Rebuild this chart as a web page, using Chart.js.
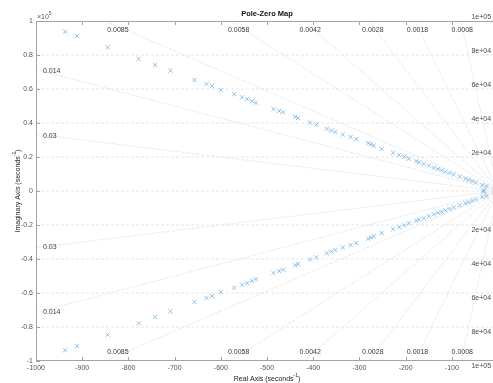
<!DOCTYPE html>
<html><head><meta charset="utf-8">
<script src="https://cdn.jsdelivr.net/npm/chart.js@4/dist/chart.umd.min.js"></script>
<style>
html,body{margin:0;padding:0;overflow:hidden;background:#fff;width:493px;height:383px;}
#wrap{position:absolute;left:0;top:0;width:503px;height:383px;}
</style></head><body>
<div id="wrap"><canvas id="c" width="503" height="383"></canvas></div>
<script>
// ---- data (real part, imaginary part in s^-1) ----
const poleReal = [-937,-911,-845,-778,-742,-709,-657,-631,-619,-600,-571,-554,-543,-533,-524,-486,-474,-465,-439,-433,-407,-393,-371,-361,-352,-336,-319,-307,-281,-275,-269,-252,-227,-214,-203,-193,-177,-171,-161,-150,-139,-130,-122,-114,-105,-96,-83,-71,-64,-56,-48,-34,-25,-31];
const poleImagUpper = [93700,91200,84500,77800,74100,70800,65300,62900,61800,59400,56900,55100,54100,52900,51900,48200,47100,46300,43700,42900,40300,39000,36600,35600,34700,33200,31800,30600,28100,27400,26700,24700,22500,21200,20200,19000,17500,16900,16000,14900,13700,12900,12200,11400,10500,9700,8400,7200,6500,5700,5000,3500,2900,400];
const poleImagLower = [-93700,-91200,-84500,-77800,-74100,-70800,-65300,-62900,-61800,-59400,-56900,-55100,-54100,-52900,-51900,-48200,-47100,-46300,-43700,-42900,-40300,-39000,-36600,-35600,-34700,-33200,-31800,-30600,-28100,-27400,-26700,-24700,-22500,-21200,-20200,-19000,-17500,-16900,-16000,-14900,-13700,-12900,-12200,-11400,-10500,-9700,-8400,-7200,-6500,-5700,-5000,-3500,-2900,-400];
const xTickValues = [-1000,-900,-800,-700,-600,-500,-400,-300,-200,-100,0];
const yTickValues = [-100000,-80000,-60000,-40000,-20000,0,20000,40000,60000,80000,100000];
const dampingValues = [0.03,0.014,0.0085,0.0058,0.0042,0.0028,0.0018,0.0008];
const dampingLabels = ['0.03','0.014','0.0085','0.0058','0.0042','0.0028','0.0018','0.0008'];
const freqValues = [20000,40000,60000,80000,100000];
const freqLabels = ['2e+04','4e+04','6e+04','8e+04','1e+05'];

const FONT = '"Liberation Sans", Arial, Helvetica, sans-serif';
const poleColor = '#6aaee4';

const upper = poleReal.map((x,i)=>({x:x,y:poleImagUpper[i]}));
const lower = poleReal.map((x,i)=>({x:x,y:poleImagLower[i]}));

function supText(ctx, parts, x, y, align){
  const main = '7px ' + FONT, small = '5px ' + FONT;
  let w = 0;
  parts.forEach(p=>{ ctx.font = p.sup?small:main; w += ctx.measureText(p.t).width; });
  let cx = align==='center' ? x - w/2 : x;
  ctx.textAlign = 'left'; ctx.textBaseline = 'alphabetic';
  parts.forEach(p=>{
    ctx.font = p.sup?small:main;
    ctx.fillText(p.t, cx, p.sup ? y-3.5 : y);
    cx += ctx.measureText(p.t).width;
  });
}

const sgrid = {
  id:'sgrid',
  beforeDatasetsDraw(chart){
    const {ctx, chartArea:a, scales:{x:sx, y:sy}} = chart;
    ctx.save();
    ctx.beginPath(); ctx.rect(a.left,a.top,a.right-a.left,a.bottom-a.top); ctx.clip();
    ctx.lineWidth = 0.7;
    // natural-frequency circles
    ctx.strokeStyle = '#dadada';
    ctx.setLineDash([3,2]);
    freqValues.forEach(r=>{
      [1,-1].forEach(s=>{
        ctx.beginPath();
        for(let k=0;k<=50;k++){
          const xv = -1000 + k*20;
          const yv = s*Math.sqrt(r*r - xv*xv);
          const px = sx.getPixelForValue(xv), py = sy.getPixelForValue(yv);
          if(k===0) ctx.moveTo(px,py); else ctx.lineTo(px,py);
        }
        ctx.stroke();
      });
    });
    // real axis
    ctx.beginPath();
    ctx.moveTo(a.left, sy.getPixelForValue(0)); ctx.lineTo(a.right, sy.getPixelForValue(0));
    ctx.stroke();
    // damping rays
    ctx.strokeStyle = '#e2e2e2';
    ctx.lineWidth = 0.7;
    ctx.setLineDash([4,1]);
    const R = 150000;
    dampingValues.forEach(z=>{
      [1,-1].forEach(s=>{
        ctx.beginPath();
        ctx.moveTo(sx.getPixelForValue(0), sy.getPixelForValue(0));
        ctx.lineTo(sx.getPixelForValue(-R*z), sy.getPixelForValue(s*R*Math.sqrt(1-z*z)));
        ctx.stroke();
      });
    });
    ctx.restore();
  },
  afterDatasetsDraw(chart){
    const {ctx, chartArea:a, scales:{x:sx, y:sy}} = chart;
    ctx.save();
    // box
    ctx.strokeStyle = '#a3a3a3'; ctx.lineWidth = 1; ctx.setLineDash([]);
    ctx.strokeRect(a.left+0.5, a.top+0.5, a.right-a.left-1, a.bottom-a.top-1);
    ctx.beginPath();
    xTickValues.forEach(v=>{
      const px = Math.round(sx.getPixelForValue(v))+0.5;
      ctx.moveTo(px, a.bottom); ctx.lineTo(px, a.bottom-4);
      ctx.moveTo(px, a.top); ctx.lineTo(px, a.top+4);
    });
    yTickValues.forEach(v=>{
      const py = Math.round(sy.getPixelForValue(v))+0.5;
      ctx.moveTo(a.left, py); ctx.lineTo(a.left+4, py);
      ctx.moveTo(a.right, py); ctx.lineTo(a.right-4, py);
    });
    ctx.stroke();
    // damping labels
    ctx.fillStyle = '#3a3a3a';
    ctx.font = '7px ' + FONT;
    dampingValues.forEach((z,i)=>{
      const xi = -100000*z/Math.sqrt(1-z*z);
      if(xi >= -1000){
        const px = sx.getPixelForValue(0.968*xi);
        ctx.textAlign='center'; ctx.textBaseline='middle';
        ctx.fillText(dampingLabels[i], px, a.top+9);
        ctx.fillText(dampingLabels[i], px, a.bottom-8.5);
      } else {
        const yv = 1000*Math.sqrt(1-z*z)/z;
        ctx.textAlign='left'; ctx.textBaseline='middle';
        ctx.fillText(dampingLabels[i], a.left+7, sy.getPixelForValue(yv)+1.5);
        ctx.fillText(dampingLabels[i], a.left+7, sy.getPixelForValue(-yv)-0.2);
      }
    });
    // frequency labels
    ctx.fillStyle = '#4a4a4a';
    ctx.textAlign='right'; ctx.textBaseline='middle';
    freqValues.forEach((r,i)=>{
      ctx.fillText(freqLabels[i], a.right-7, sy.getPixelForValue(r)-4);
      ctx.fillText(freqLabels[i], a.right-7, sy.getPixelForValue(-r)+4.8);
    });
    // exponent
    ctx.fillStyle = '#5a5a5a';
    supText(ctx, [{t:'\u00d710'},{t:'5',sup:true}], a.left+1, a.top-2.5, 'left');
    // title
    ctx.fillStyle = '#111';
    ctx.font = 'bold 7.5px ' + FONT;
    ctx.textAlign='center'; ctx.textBaseline='middle';
    ctx.fillText('Pole-Zero Map', (a.left+a.right)/2, 13.5);
    // x axis title
    ctx.fillStyle = '#222';
    supText(ctx, [{t:'Real Axis (seconds'},{t:'-1',sup:true},{t:')'}], (a.left+a.right)/2, 380.5, 'center');
    // y axis title
    ctx.save();
    ctx.translate(19.5, (a.top+a.bottom)/2);
    ctx.rotate(-Math.PI/2);
    supText(ctx, [{t:'Imaginary Axis (seconds'},{t:'-1',sup:true},{t:')'}], 0, 0, 'center');
    ctx.restore();
    ctx.restore();
  }
};

new Chart(document.getElementById('c'), {
  type:'scatter',
  data:{datasets:[
    {data:upper, pointStyle:'crossRot', pointRadius:3, borderColor:poleColor, backgroundColor:poleColor, pointBorderWidth:0.75, showLine:false},
    {data:lower, pointStyle:'crossRot', pointRadius:3, borderColor:poleColor, backgroundColor:poleColor, pointBorderWidth:0.75, showLine:false}
  ]},
  options:{
    responsive:false, animation:false, events:[],
    layout:{padding:{left:0, top:21, right:3.3, bottom:0}},
    plugins:{legend:{display:false}, tooltip:{enabled:false}, title:{display:false}},
    scales:{
      x:{type:'linear', min:-1000, max:0,
        afterBuildTicks(s){ s.ticks = xTickValues.map(v=>({value:v})); },
        afterFit(s){ s.height = 22; },
        grid:{display:false, drawTicks:false}, border:{display:false},
        ticks:{padding:3, autoSkip:false, maxRotation:0, color:'#555', font:{size:7, family:FONT},
          callback:v=>String(v)}
      },
      y:{type:'linear', min:-100000, max:100000,
        afterBuildTicks(s){ s.ticks = yTickValues.map(v=>({value:v})); },
        afterFit(s){ s.width = 36; },
        grid:{display:false, drawTicks:false}, border:{display:false},
        ticks:{padding:3, autoSkip:false, color:'#555', font:{size:7, family:FONT},
          callback:v=>String(Math.round(v/10000)/10)}
      }
    }
  },
  plugins:[sgrid]
});
</script>
</body></html>
